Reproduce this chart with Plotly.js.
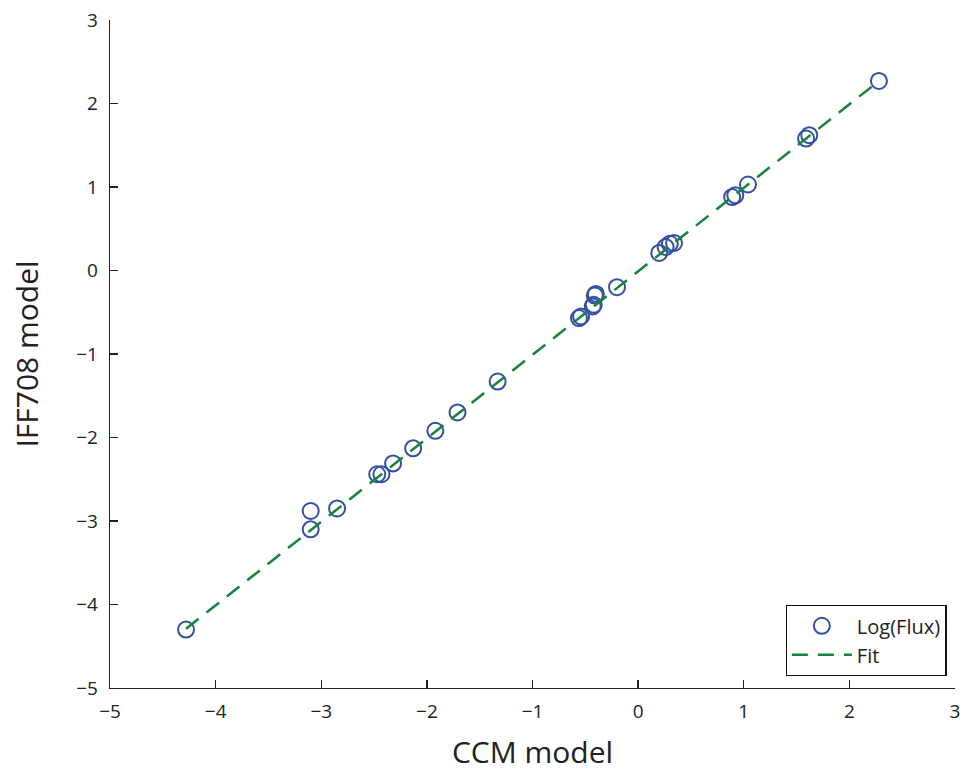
<!DOCTYPE html>
<html>
<head>
<meta charset="utf-8">
<script src="https://cdn.plot.ly/plotly-3.0.1.min.js"></script>
<style>html,body{margin:0;padding:0;background:#fff;}#chart{width:963px;height:772px;}</style>
</head>
<body>
<div id="chart"></div>
<script>
// Data
const ccm = [-4.28, -3.10, -3.10, -2.85, -2.47, -2.43, -2.32, -2.13, -1.92, -1.71, -1.33,
  -0.56, -0.54, -0.43, -0.42, -0.41, -0.40, -0.20, 0.20, 0.26, 0.30, 0.34,
  0.89, 0.92, 1.04, 1.59, 1.62, 2.28];
const iff = [-4.30, -2.88, -3.10, -2.85, -2.44, -2.44, -2.31, -2.13, -1.92, -1.70, -1.33,
  -0.57, -0.55, -0.43, -0.41, -0.30, -0.28, -0.20, 0.21, 0.28, 0.32, 0.33,
  0.88, 0.90, 1.03, 1.58, 1.62, 2.27];
const fitX = [-4.28, 2.28];
const fitY = [-4.29, 2.27];
const xTicks = [-5, -4, -3, -2, -1, 0, 1, 2, 3];
const yTicks = [-5, -4, -3, -2, -1, 0, 1, 2, 3];

const traces = [
  {x: ccm, y: iff, type: 'scatter', mode: 'markers', name: 'Log(Flux)',
   marker: {symbol: 'circle-open', size: 16, color: '#3450a3', line: {width: 2, color: '#3450a3'}}},
  {x: fitX, y: fitY, type: 'scatter', mode: 'lines', name: 'Fit',
   line: {color: '#14843c', width: 2.5, dash: '16px,10px'}}
];

const FONT = 'Open Sans, Noto Sans, sans-serif';
const axisCommon = {
  showgrid: false, zeroline: false, showline: true, linecolor: '#222', linewidth: 1.3,
  ticks: 'inside', ticklen: 8, tickcolor: '#222', tickwidth: 1.3,
  tickfont: {family: FONT, size: 19, color: '#222'},
  mirror: false, fixedrange: true
};

const layout = {
  width: 963, height: 772,
  margin: {l: 110, r: 8, t: 20, b: 84},
  paper_bgcolor: '#fff', plot_bgcolor: '#fff',
  showlegend: true,
  xaxis: Object.assign({}, axisCommon, {
    range: [-5, 3], tickvals: xTicks, ticklabelstandoff: 6,
    title: {text: 'CCM model', font: {family: FONT, size: 30, color: '#222'}, standoff: 22}
  }),
  yaxis: Object.assign({}, axisCommon, {
    range: [-5, 3], tickvals: yTicks, ticklabelstandoff: 7,
    title: {text: 'IFF708 model', font: {family: FONT, size: 30, color: '#222'}, standoff: 28}
  }),
  legend: {
    x: 0.99, xanchor: 'right', y: 0.018, yanchor: 'bottom',
    bgcolor: '#fff', bordercolor: '#111', borderwidth: 1.3,
    font: {family: FONT, size: 20, color: '#222'},
    itemwidth: 60, tracegroupgap: 0
  }
};

Plotly.newPlot('chart', traces, layout, {displayModeBar: false, staticPlot: true});
</script>
</body>
</html>
